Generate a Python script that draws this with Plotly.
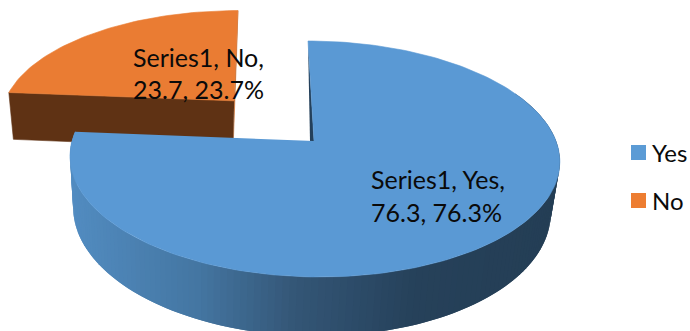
import numpy as np
import plotly.graph_objects as go

# Survey answers
series_name = "Series1"
categories = ["Yes", "No"]
values = [76.3, 23.7]
top_colors = ["#5a99d4", "#ea7c33"]
legend_colors = ["#5b9bd5", "#ed7d31"]

# Viewing model for the tilted disc, in page pixels
CX, CY = 314.0, 141.0
RX, RY = 242.0, 115.25
PERSP = 0.1525
SHEAR = -6.0
DEPTH = 50.0
BOTTOM_SCALE = 0.975
BOTTOM_SHIFT = -3.0
EXPLODE_NO = 0.5


def project(u, v, bottom=False):
    """Map plate coordinates (u right, v back) to page pixels."""
    u, v = np.asarray(u, float), np.asarray(v, float)
    k = 1.0 / (1.0 + PERSP * v)
    if bottom:
        return (CX + BOTTOM_SCALE * RX * u * k + SHEAR * v + BOTTOM_SHIFT,
                CY - RY * v * k + DEPTH * k)
    return CX + RX * u * k + SHEAR * v, CY - RY * v * k


def blend(x):
    """Horizontal shading of the blue rim."""
    xs = [70, 200, 300, 345, 420, 560]
    rgb = [(82, 140, 193), (68, 118, 162), (52, 86, 118), (46, 78, 108), (38, 65, 90), (36, 62, 85)]
    c = [np.interp(x, xs, [p[i] for p in rgb]) for i in range(3)]
    return "rgb(%d,%d,%d)" % tuple(int(round(a)) for a in c)


def poly(xs, ys, color, width=0.6):
    return go.Scatter(x=xs, y=ys, mode="lines", fill="toself", fillcolor=color,
                      line=dict(color=color, width=width), showlegend=False, hoverinfo="skip")


def face(u, v, color):
    x, y = project(u, v)
    return poly(list(x), list(y), color)


def wall(u, v, color, width=0.6):
    """Vertical wall along a run of plate points."""
    xt, yt = project(u, v)
    xb, yb = project(u[::-1], v[::-1], bottom=True)
    return poly(list(xt) + list(xb), list(yt) + list(yb), color, width)


total = sum(values)
sweep_yes = 2 * np.pi * values[0] / total
sweep_no = 2 * np.pi * values[1] / total

fig = go.Figure()

# Exploded "No" wedge, drawn first so the larger slice overlaps it
mid_no = sweep_yes + sweep_no / 2
ou, ov = EXPLODE_NO * np.sin(mid_no), EXPLODE_NO * np.cos(mid_no)
t_no = np.linspace(sweep_yes, 2 * np.pi, 60)
u_no = np.concatenate([[ou], ou + np.sin(t_no)])
v_no = np.concatenate([[ov], ov + np.cos(t_no)])
fig.add_trace(wall(np.array([ou, ou]), np.array([ov, ov + 1]), "#c46a2c"))
fig.add_trace(wall(np.array([ou, ou + np.sin(sweep_yes)]),
                   np.array([ov, ov + np.cos(sweep_yes)]), "#5f3214"))
fig.add_trace(face(u_no, v_no, top_colors[1]))

# "Yes" wedge: inner face (a sliver seen edge-on), shaded outer rim, top
xr, yr = project([0.0, 0.0], [1.0, 0.0])
xa, ya = project(0.0, 0.0, bottom=True)
fig.add_trace(poly(list(xr) + [float(xa)], list(yr) + [float(ya)], "#24405a", 0))
t_yes = np.linspace(0, sweep_yes, 190)
for i in range(len(t_yes) - 1):
    # each strip runs on over its neighbour so no seams show between them
    t = t_yes[i:i + 3]
    if np.cos(t[0]) < 0.45:
        xm, _ = project(np.sin(t[0]), np.cos(t[0]))
        fig.add_trace(wall(np.sin(t), np.cos(t), blend(float(xm)), 0))
fig.add_trace(face(np.concatenate([[0], np.sin(t_yes)]),
                   np.concatenate([[0], np.cos(t_yes)]), top_colors[0]))

# Data labels, one annotation per line for the wide leading
label_pos = [((438, 179), (436, 212)), ((198, 57), (198, 89))]
for name, val, pos in zip(categories, values, label_pos):
    lines = [f"{series_name}, {name},", f"{val}, {val / total * 100:.1f}%"]
    for line, (px, py) in zip(lines, pos):
        fig.add_annotation(x=px, y=py, text=line, showarrow=False,
                           font=dict(family="Lato", size=25, color="#0a0a0a"))

# Key on the right: square swatch plus category name
key_rows = [152.5, 200.5]
for name, color, ky in zip(categories, legend_colors, key_rows):
    fig.add_trace(go.Scatter(x=[638.5], y=[ky], mode="markers", name=name, showlegend=False,
                             hoverinfo="skip",
                             marker=dict(symbol="square", size=15, color=color)))
    fig.add_annotation(x=651.5, y=ky, text=name, showarrow=False, xanchor="left", xshift=0,
                       borderpad=0, borderwidth=0,
                       font=dict(family="Lato", size=24, color="#0a0a0a"))

fig.update_layout(
    width=690, height=331,
    margin=dict(l=0, r=0, t=0, b=0, autoexpand=False),
    paper_bgcolor="white", plot_bgcolor="white",
    xaxis=dict(range=[0, 690], visible=False, fixedrange=True),
    yaxis=dict(range=[331, 0], visible=False, fixedrange=True),
    hovermode=False,
    showlegend=False,
)

fig.write_html("out.html", config={"displayModeBar": False})
